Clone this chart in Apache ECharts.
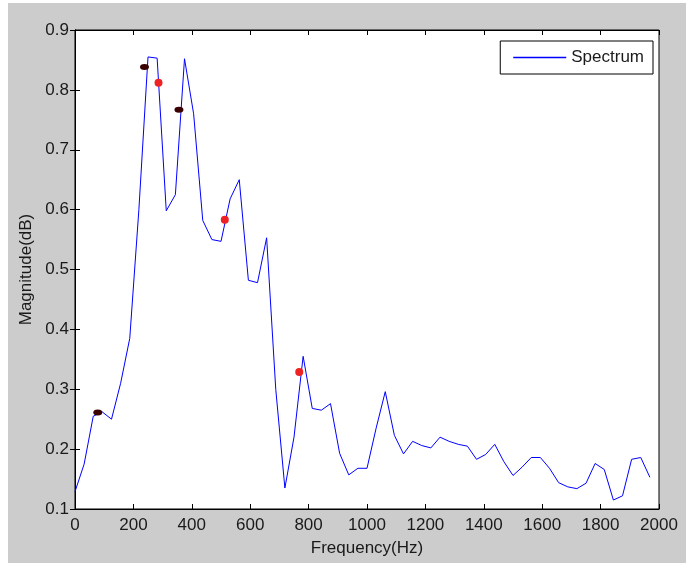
<!DOCTYPE html>
<html>
<head>
<meta charset="utf-8">
<script src="https://cdn.jsdelivr.net/npm/echarts@6/dist/echarts.min.js"></script>
<style>
  html, body { margin: 0; padding: 0; background: #fff; }
  #chart { position: absolute; left: 8px; top: 3px; width: 678px; height: 560px; background: #cccccc; }
</style>
</head>
<body>
<div id="chart"></div>
<script>
// spectrum samples (Hz, magnitude)
const freqs = [
  0, 31.25, 62.5, 93.75, 125, 156.25, 187.5, 218.75, 250, 281.25,
  312.5, 343.75, 375, 406.25, 437.5, 468.75, 500, 531.25, 562.5, 593.75,
  625, 656.25, 687.5, 718.75, 750, 781.25, 812.5, 843.75, 875, 906.25,
  937.5, 968.75, 1000, 1031.25, 1062.5, 1093.75, 1125, 1156.25, 1187.5, 1218.75,
  1250, 1281.25, 1312.5, 1343.75, 1375, 1406.25, 1437.5, 1468.75, 1500, 1531.25,
  1562.5, 1593.75, 1625, 1656.25, 1687.5, 1718.75, 1750, 1781.25, 1812.5, 1843.75,
  1875, 1906.25, 1937.5, 1968.75
]
const magnitude = [
  0.129, 0.175, 0.255, 0.262, 0.25, 0.31, 0.385, 0.6, 0.855, 0.853,
  0.598, 0.625, 0.852, 0.76, 0.582, 0.55, 0.547, 0.618, 0.65, 0.482,
  0.478, 0.553, 0.3, 0.135, 0.22, 0.355, 0.268, 0.265, 0.276, 0.193,
  0.157, 0.168, 0.168, 0.235, 0.296, 0.223, 0.192, 0.213, 0.206, 0.202,
  0.22, 0.213, 0.208, 0.205, 0.183, 0.191, 0.208, 0.179, 0.156, 0.17,
  0.186, 0.186, 0.168, 0.144, 0.137, 0.134, 0.143, 0.176, 0.166, 0.115,
  0.122, 0.183, 0.186, 0.153
]
// marked points
const darkPoints = [[78, 0.261], [238, 0.838], [356, 0.767]]
const redPoints = [[286, 0.812], [513, 0.583], [768, 0.329]]

const xTicks = { min: 0, max: 2000, interval: 200 }
const yTicks = { min: 0.1, max: 0.9, interval: 0.1 }

const font = 'Liberation Sans'
const textColor = '#1a1a1a'

const chart = echarts.init(document.getElementById('chart'))

const baseAxis = {
  axisLine: { show: true, lineStyle: { color: '#000', width: 1 } },
  axisTick: { show: true, inside: true, length: 5, lineStyle: { color: '#000' } },
  splitLine: { show: false },
}

chart.setOption({
  backgroundColor: '#cccccc',
  animation: false,
  grid: {
    left: 67, top: 27, right: 27, bottom: 54,
    show: true, backgroundColor: '#fff', borderColor: '#000', borderWidth: 1,
  },
  legend: {
    data: [{ name: 'Spectrum', icon: 'rect' }],
    right: 33, top: 38,
    orient: 'vertical',
    backgroundColor: '#fff',
    borderColor: '#000',
    borderWidth: 1,
    padding: [8, 9, 8, 13],
    itemWidth: 53, itemHeight: 1.5,
    textStyle: { fontFamily: font, fontSize: 17, color: textColor },
  },
  xAxis: [
    {
      ...baseAxis, type: 'value', position: 'bottom', ...xTicks,
      name: 'Frequency(Hz)', nameLocation: 'middle', nameGap: 31,
      nameTextStyle: { fontFamily: font, fontSize: 17, color: textColor },
      axisLabel: {
        margin: 8, fontFamily: font, fontSize: 17, color: textColor,
        formatter: (v) => String(v),
      },
    },
    {
      ...baseAxis, type: 'value', position: 'top', ...xTicks,
      axisLabel: { show: false },
    },
  ],
  yAxis: [
    {
      ...baseAxis, type: 'value', position: 'left', ...yTicks,
      name: 'Magnitude(dB)', nameLocation: 'middle', nameGap: 39,
      nameTextStyle: { fontFamily: font, fontSize: 17, color: textColor },
      axisLabel: {
        margin: 6, fontFamily: font, fontSize: 17, color: textColor,
        formatter: (v) => v.toFixed(1),
      },
    },
    {
      ...baseAxis, type: 'value', position: 'right', ...yTicks,
      axisLabel: { show: false },
    },
  ],
  series: [
    {
      name: 'Spectrum',
      type: 'line',
      xAxisIndex: 0, yAxisIndex: 0,
      data: freqs.map((f, i) => [f, magnitude[i]]),
      symbol: 'none',
      lineStyle: { color: '#0000ff', width: 1 },
      itemStyle: { color: '#0000ff' },
    },
    {
      name: 'dark',
      type: 'scatter',
      data: darkPoints,
      symbolSize: [9, 6],
      itemStyle: { color: '#3a0000', opacity: 1 },
      z: 5,
    },
    {
      name: 'red',
      type: 'scatter',
      data: redPoints,
      symbolSize: 8,
      itemStyle: { color: '#ee2222', opacity: 1 },
      z: 5,
    },
  ],
})
</script>
</body>
</html>
